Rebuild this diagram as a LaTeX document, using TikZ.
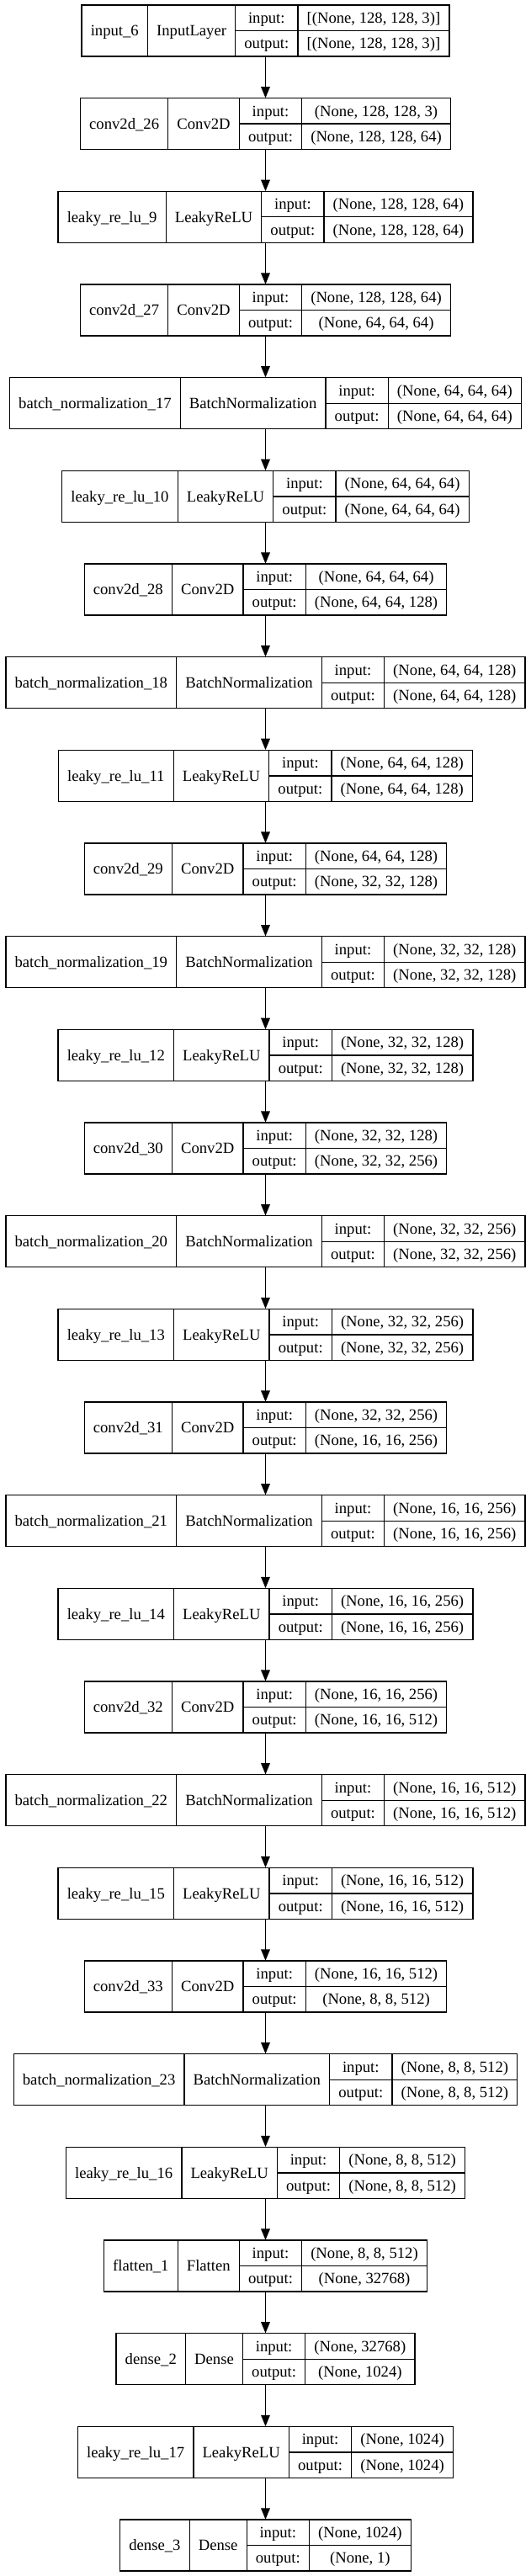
\documentclass[tikz,border=0pt]{standalone}
\usepackage{fontspec}
\setmainfont{Liberation Serif}
\usepackage{tikz}
\usetikzlibrary{arrows.meta}
\usetikzlibrary{positioning}
\usetikzlibrary{fit}

\newcommand\lfont{\fontsize{14}{16.8}\selectfont}
\newlength\wname
\newlength\wcls
\newlength\wio
\newlength\wshp
\newlength\wout
\newlength\wtmp
\newlength\wbox
% measure text in the real font (the picture itself uses \nullfont)
\newcommand\getwidth[2]{\pgfinterruptpicture\settowidth\wtmp{\lfont #2}\global#1=\wtmp\endpgfinterruptpicture}

\tikzset{
	cell/.style={draw, line width=1pt, inner sep=0pt, outer sep=0pt, font=\lfont,
		text height=9.3pt, text depth=0pt, align=center},
	tall/.style={cell, minimum height=45.75pt},
	half/.style={cell, minimum height=22.875pt},
	link/.style={line width=1pt, -{Triangle[length=10pt, width=8pt]}}
}

\begin{document}
\begin{tikzpicture}
	\useasboundingbox (-236.625pt, 0pt) rectangle (236.625pt, -2295.75pt);
	\foreach \n/\c/\i/\o [count=\k from 0] in {
		input\_6/InputLayer/{[(None, 128, 128, 3)]}/{[(None, 128, 128, 3)]},
		conv2d\_26/Conv2D/{(None, 128, 128, 3)}/{(None, 128, 128, 64)},
		leaky\_re\_lu\_9/LeakyReLU/{(None, 128, 128, 64)}/{(None, 128, 128, 64)},
		conv2d\_27/Conv2D/{(None, 128, 128, 64)}/{(None, 64, 64, 64)},
		batch\_normalization\_17/BatchNormalization/{(None, 64, 64, 64)}/{(None, 64, 64, 64)},
		leaky\_re\_lu\_10/LeakyReLU/{(None, 64, 64, 64)}/{(None, 64, 64, 64)},
		conv2d\_28/Conv2D/{(None, 64, 64, 64)}/{(None, 64, 64, 128)},
		batch\_normalization\_18/BatchNormalization/{(None, 64, 64, 128)}/{(None, 64, 64, 128)},
		leaky\_re\_lu\_11/LeakyReLU/{(None, 64, 64, 128)}/{(None, 64, 64, 128)},
		conv2d\_29/Conv2D/{(None, 64, 64, 128)}/{(None, 32, 32, 128)},
		batch\_normalization\_19/BatchNormalization/{(None, 32, 32, 128)}/{(None, 32, 32, 128)},
		leaky\_re\_lu\_12/LeakyReLU/{(None, 32, 32, 128)}/{(None, 32, 32, 128)},
		conv2d\_30/Conv2D/{(None, 32, 32, 128)}/{(None, 32, 32, 256)},
		batch\_normalization\_20/BatchNormalization/{(None, 32, 32, 256)}/{(None, 32, 32, 256)},
		leaky\_re\_lu\_13/LeakyReLU/{(None, 32, 32, 256)}/{(None, 32, 32, 256)},
		conv2d\_31/Conv2D/{(None, 32, 32, 256)}/{(None, 16, 16, 256)},
		batch\_normalization\_21/BatchNormalization/{(None, 16, 16, 256)}/{(None, 16, 16, 256)},
		leaky\_re\_lu\_14/LeakyReLU/{(None, 16, 16, 256)}/{(None, 16, 16, 256)},
		conv2d\_32/Conv2D/{(None, 16, 16, 256)}/{(None, 16, 16, 512)},
		batch\_normalization\_22/BatchNormalization/{(None, 16, 16, 512)}/{(None, 16, 16, 512)},
		leaky\_re\_lu\_15/LeakyReLU/{(None, 16, 16, 512)}/{(None, 16, 16, 512)},
		conv2d\_33/Conv2D/{(None, 16, 16, 512)}/{(None, 8, 8, 512)},
		batch\_normalization\_23/BatchNormalization/{(None, 8, 8, 512)}/{(None, 8, 8, 512)},
		leaky\_re\_lu\_16/LeakyReLU/{(None, 8, 8, 512)}/{(None, 8, 8, 512)},
		flatten\_1/Flatten/{(None, 8, 8, 512)}/{(None, 32768)},
		dense\_2/Dense/{(None, 32768)}/{(None, 1024)},
		leaky\_re\_lu\_17/LeakyReLU/{(None, 1024)}/{(None, 1024)},
		dense\_3/Dense/{(None, 1024)}/{(None, 1)}}{
		% widths of the four columns, box centred on x=0
		\getwidth\wname{\n}
		\getwidth\wcls{\c}
		\getwidth\wio{output:}
		\getwidth\wshp{\i}
		\getwidth\wout{\o}
		\ifdim\wout>\wshp \global\wshp=\wout\fi
		\global\wbox=\dimexpr\wname+\wcls+\wio+\wshp+64pt\relax
		\pgfmathsetlengthmacro\ytop{-4.5pt-83pt*\k}
		\node[tall, anchor=north west, minimum width=\wname+16pt] (name\k) at ({-0.5\wbox}, \ytop) {\n};
		\node[tall, minimum width=\wcls+16pt] (class\k) [right=0pt of name\k] {\c};
		\node[half, minimum width=\wio+16pt] (inl\k) [below right=0pt and 0pt of class\k.north east] {input:};
		\node[half, minimum width=\wio+16pt] (outl\k) [below=0pt of inl\k] {output:};
		\node[half, minimum width=\wshp+16pt] (ins\k) [right=0pt of inl\k] {\i};
		\node[half, minimum width=\wshp+16pt] (outs\k) [right=0pt of outl\k] {\o};
		\node[fit=(name\k)(outs\k), inner sep=0pt] (layer\k) {};
	}
	\foreach \k [evaluate=\k as \j using int(\k+1)] in {0,...,26}
		\draw[link] (layer\k.south) -- (layer\j.north);
\end{tikzpicture}
\end{document}
